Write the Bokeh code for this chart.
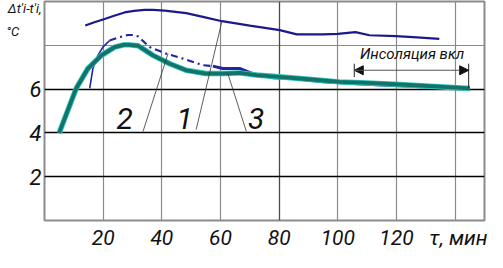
from bokeh.plotting import figure
from bokeh.models import FixedTicker, Grid, Label, Arrow, NormalHead, Range1d, LinearAxis
from bokeh.embed import file_html
from bokeh.resources import INLINE

# ---- data ----
c1_x = [13.9, 17, 20.5, 24, 27.3, 30.5, 34.1, 37, 41, 48.3, 54, 60.5, 70, 80.2, 86, 95, 100, 106, 110.8, 119.8, 127, 134.6]
c1_y = [8.9, 9.05, 9.2, 9.36, 9.5, 9.57, 9.62, 9.62, 9.58, 9.47, 9.3, 9.1, 8.9, 8.69, 8.5, 8.5, 8.52, 8.6, 8.46, 8.42, 8.36, 8.29]

c2_x = [15.4, 16.5, 18.2, 19.9, 22.2, 25.6, 28.4, 30.2, 32, 35.8, 41.5, 47.2, 54, 57.4, 60.8, 66.5, 71, 77.9, 84.7, 95, 105, 115, 125, 135, 145]
c2_y = [6.03, 6.94, 7.54, 7.92, 8.22, 8.37, 8.47, 8.47, 8.4, 7.92, 7.62, 7.39, 7.09, 7.05, 6.94, 6.94, 6.71, 6.52, 6.48, 6.34, 6.25, 6.19, 6.13, 6.06, 5.99]

c3_x = [5, 8, 10.8, 14.8, 19.4, 23.9, 27, 29, 31.9, 34, 37, 42.7, 48.3, 55, 60.8, 66.5, 72.2, 80, 90, 100.6, 110, 121, 133, 145]
c3_y = [4.0, 5.05, 6.03, 6.94, 7.54, 7.92, 8.02, 8.02, 7.98, 7.8, 7.54, 7.16, 6.86, 6.71, 6.71, 6.74, 6.64, 6.56, 6.45, 6.33, 6.28, 6.21, 6.12, 6.03]

x_ticks = [20, 40, 60, 80, 100, 120]
x_unit_pos = 142.5
x_unit_text = "τ, мин"
y_ticks = [2, 4, 6]
y_title_pos = [9.66, 8.64]
y_title_text = ["Δt'i-t'i,", "°C" + "\u00a0" * 7]
x_grid = [20, 40, 60, 100, 120, 140]
x_grid_dark = [80]
y_grid_gray = [8]

curve_labels = ["2", "1", "3"]
label_x = [27.3, 47.8, 72.2]
label_y = [4.67, 4.67, 4.67]
leader_x0 = [33.6, 51.7, 68.8]
leader_y0 = [4.07, 4.15, 4.07]
leader_x1 = [42.1, 60.5, 62.5]
leader_y1 = [7.62, 9.1, 6.71]

FONT = "Roboto"

p = figure(width=487, height=252, output_backend="svg", toolbar_location=None,
           x_range=Range1d(0, 150), y_range=Range1d(0, 10),
           min_border_left=44, min_border_right=3, min_border_top=1, min_border_bottom=30)
p.background_fill_color = "white"
p.border_fill_color = "white"
p.outline_line_color = "#8c8c8c"
p.outline_line_width = 2

# axes
p.xaxis.ticker = FixedTicker(ticks=x_ticks + [x_unit_pos])
p.xaxis.major_label_overrides = {x_unit_pos: x_unit_text}
p.yaxis.ticker = FixedTicker(ticks=y_ticks)

y_title_axis = LinearAxis(ticker=FixedTicker(ticks=y_title_pos),
                          major_label_overrides=dict(zip(y_title_pos, y_title_text)))
p.add_layout(y_title_axis, "left")

for ax in (p.xaxis[0], p.yaxis[0], y_title_axis):
    ax.axis_line_color = None
    ax.major_tick_line_color = None
    ax.minor_tick_line_color = None
    ax.major_tick_out = 0
    ax.major_tick_in = 0
    ax.minor_tick_out = 0
    ax.minor_tick_in = 0
    ax.major_label_text_font = FONT
    ax.major_label_text_font_style = "italic"
    ax.major_label_text_color = "#111111"
p.xaxis.major_label_text_font_size = "21px"
p.xaxis.major_label_standoff = 5
p.yaxis[0].major_label_text_font_size = "22px"
p.yaxis[0].major_label_standoff = 3
y_title_axis.major_label_text_font_size = "13px"
y_title_axis.major_label_standoff = -15

# grids
p.xgrid.ticker = FixedTicker(ticks=x_grid)
p.xgrid.grid_line_color = "#8a8a8a"
p.xgrid.grid_line_width = 1.2
p.ygrid.ticker = FixedTicker(ticks=y_grid_gray)
p.ygrid.grid_line_color = "#8a8a8a"
p.ygrid.grid_line_width = 1.2
p.add_layout(Grid(dimension=0, ticker=FixedTicker(ticks=x_grid_dark), grid_line_color="#4a4a4a", grid_line_width=1.3))
p.add_layout(Grid(dimension=1, ticker=FixedTicker(ticks=y_ticks), grid_line_color="#000000", grid_line_width=1.6))

# curves
p.line(c1_x, c1_y, line_color="#1a1a8c", line_width=2.2)

i_a = c2_x.index(22.2)
i_b = c2_x.index(57.4)
p.line(c2_x[:i_a + 1], c2_y[:i_a + 1], line_color="#2424a0", line_width=1.6)
p.line(c2_x[i_a:i_b + 1], c2_y[i_a:i_b + 1], line_color="#2424a0", line_width=2.2, line_dash="7 4 2 4")
p.line(c2_x[i_b:], c2_y[i_b:], line_color="#2424a0", line_width=3)

p.line(c3_x, c3_y, line_color="#2fc4bc", line_width=5.5)
p.line(c3_x, c3_y, line_color="#127468", line_width=3.8)

# leaders and curve labels
p.segment(leader_x0, leader_y0, leader_x1, leader_y1, line_color="#333333", line_width=0.8)
for t, lx, ly in zip(curve_labels, label_x, label_y):
    p.add_layout(Label(x=lx, y=ly, text=t, text_align="center", text_baseline="middle",
                       text_font=FONT, text_font_style="italic", text_font_size="30px",
                       text_color="#111111"))

# insolation annotation
ins_x0, ins_x1, ins_y = 105.6, 144.6, 6.86
p.segment([ins_x0, ins_x1], [6.55, 6.04], [ins_x0, ins_x1], [7.16, 7.16], line_color="#222222", line_width=1)
p.add_layout(Arrow(x_start=ins_x0 + 3.2, y_start=ins_y, x_end=ins_x0, y_end=ins_y,
                   line_color="#222222", line_width=1,
                   end=NormalHead(size=9, fill_color="#111111", line_color="#111111")))
p.add_layout(Arrow(x_start=ins_x0, y_start=ins_y, x_end=ins_x1, y_end=ins_y,
                   line_color="#555555", line_width=1.2,
                   end=NormalHead(size=9, fill_color="#111111", line_color="#111111")))
p.add_layout(Label(x=125.3, y=7.6, text="Инсоляция вкл", text_align="center", text_baseline="middle",
                   text_font=FONT, text_font_style="italic", text_font_size="15px",
                   text_color="#111111"))

open("out.html", "w").write(file_html(p, INLINE))
